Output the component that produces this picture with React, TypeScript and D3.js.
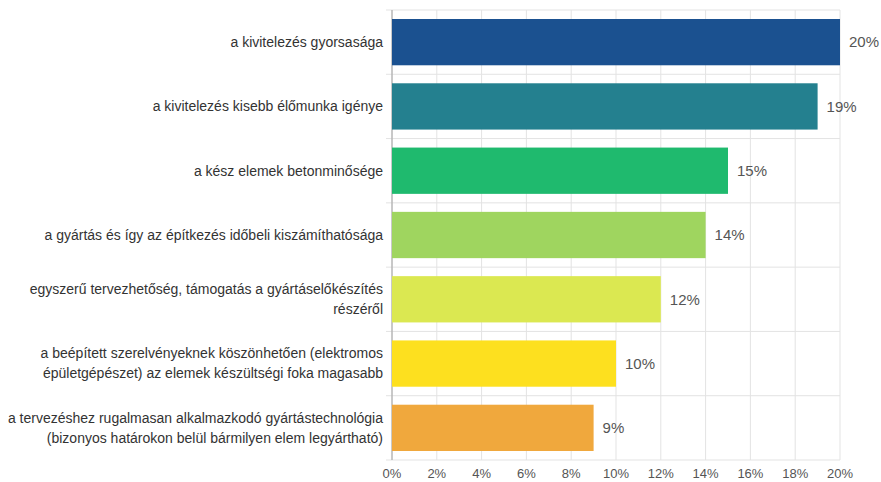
import React, { useEffect, useRef } from "react"
import * as d3 from "d3"

// categories (label lines) and values in percent
const categories: string[][] = [
  ["a kivitelezés gyorsasága"],
  ["a kivitelezés kisebb élőmunka igénye"],
  ["a kész elemek betonminősége"],
  ["a gyártás és így az építkezés időbeli kiszámíthatósága"],
  ["egyszerű tervezhetőség, támogatás a gyártáselőkészítés", "részéről"],
  ["a beépített szerelvényeknek köszönhetően (elektromos", "épületgépészet) az elemek készültségi foka magasabb"],
  ["a tervezéshez rugalmasan alkalmazkodó gyártástechnológia", "(bizonyos határokon belül bármilyen elem legyártható)"],
]
const values = [20, 19, 15, 14, 12, 10, 9]
const colors = ["#1b5190", "#24808f", "#1fba6e", "#9fd55f", "#dbe851", "#fde01f", "#f0a83d"]
const xTicks = [0, 2, 4, 6, 8, 10, 12, 14, 16, 18, 20]

const W = 881
const H = 482
const FONT = "'Liberation Sans', Arial, sans-serif"

const App: React.FC = () => {
  const svgRef = useRef<SVGSVGElement | null>(null)

  useEffect(() => {
    if (!svgRef.current) return
    const svg = d3.select(svgRef.current)
    svg.selectAll("*").remove()

    const margin = { top: 10, right: 41, bottom: 22, left: 392 }
    const width = W - margin.left - margin.right
    const height = H - margin.top - margin.bottom

    const g = svg.append("g").attr("transform", `translate(${margin.left},${margin.top})`)

    const x = d3.scaleLinear().domain([0, 20]).range([0, width])
    const y = d3
      .scaleBand<number>()
      .domain(d3.range(values.length))
      .range([0, height])
      .paddingInner(0.28)
      .paddingOuter(0.14)

    const boundaries = d3.range(values.length + 1).map((i) => i * (height / values.length))

    // vertical grid
    g.append("g")
      .selectAll("line")
      .data(xTicks)
      .enter()
      .append("line")
      .attr("x1", (d) => x(d))
      .attr("x2", (d) => x(d))
      .attr("y1", 0)
      .attr("y2", height)
      .attr("stroke", "#e3e3e3")
      .attr("stroke-width", 1)

    // horizontal category separators
    g.append("g")
      .selectAll("line")
      .data(boundaries)
      .enter()
      .append("line")
      .attr("x1", -6)
      .attr("x2", width)
      .attr("y1", (d) => d)
      .attr("y2", (d) => d)
      .attr("stroke", "#e3e3e3")
      .attr("stroke-width", 1)

    // left axis line
    g.append("line")
      .attr("x1", 0)
      .attr("x2", 0)
      .attr("y1", 0)
      .attr("y2", height)
      .attr("stroke", "#a0a0a0")
      .attr("stroke-width", 1)

    // bars
    g.selectAll(".bar")
      .data(values)
      .enter()
      .append("rect")
      .attr("class", "bar")
      .attr("x", 0)
      .attr("y", (_, i) => y(i) ?? 0)
      .attr("width", (d) => x(d))
      .attr("height", y.bandwidth())
      .attr("fill", (_, i) => colors[i])

    // value labels
    g.selectAll(".val")
      .data(values)
      .enter()
      .append("text")
      .attr("class", "val")
      .attr("x", (d) => x(d) + 9)
      .attr("y", (_, i) => (y(i) ?? 0) + y.bandwidth() / 2)
      .attr("dy", "0.35em")
      .attr("fill", "#555")
      .style("font-family", FONT)
      .style("font-size", "15px")
      .text((d) => `${d}%`)

    // category labels
    categories.forEach((lines, i) => {
      const cy = (y(i) ?? 0) + y.bandwidth() / 2
      const lh = 20
      const t = g
        .append("text")
        .attr("x", -9)
        .attr("text-anchor", "end")
        .attr("fill", "#333")
        .style("font-family", FONT)
        .style("font-size", "14px")
      lines.forEach((line, j) => {
        t.append("tspan")
          .attr("x", -9)
          .attr("y", cy + (j - (lines.length - 1) / 2) * lh)
          .attr("dy", "0.35em")
          .text(line)
      })
    })

    // x tick labels
    g.selectAll(".xt")
      .data(xTicks)
      .enter()
      .append("text")
      .attr("class", "xt")
      .attr("x", (d) => x(d))
      .attr("y", height + 18)
      .attr("text-anchor", "middle")
      .attr("fill", "#555")
      .style("font-family", FONT)
      .style("font-size", "13px")
      .text((d) => `${d}%`)
  }, [])

  return (
    <div style={{ position: "absolute", left: 0, top: 0, width: W, height: H, background: "#fff" }}>
      <svg ref={svgRef} width={W} height={H} style={{ display: "block" }}></svg>
    </div>
  )
}

export default App
